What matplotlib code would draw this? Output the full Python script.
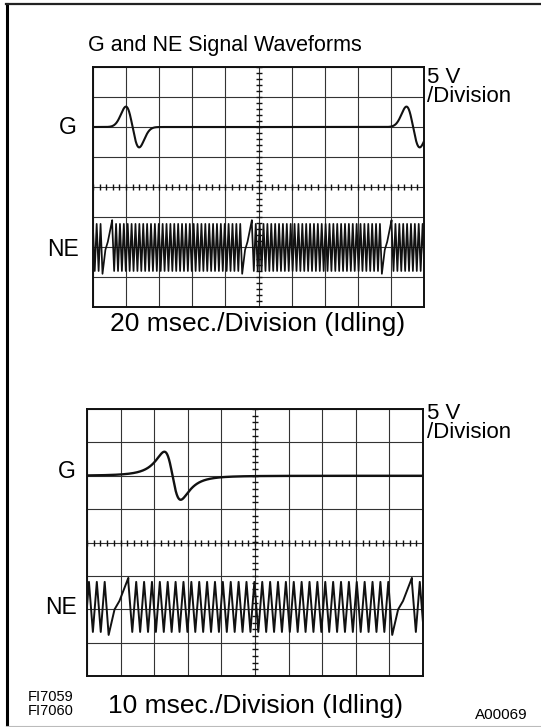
import matplotlib
matplotlib.use("Agg")
import matplotlib.pyplot as plt
from matplotlib.lines import Line2D
import numpy as np

plt.rcParams["font.family"] = ["Liberation Sans", "DejaVu Sans"]

W, H = 541, 727          # output size in px (dpi 100)

# --- data (in oscilloscope divisions; x 0..10, y -4..4, centre = 0) ---
# upper screen, 20 msec./Division
top_g_centre = [1.195, 9.67]      # centre of each G pulse
top_g_width = 0.20
top_g_amp = 0.68
top_g_level = 2.0
top_ne_gap_peak = [0.58, 4.80, 9.02]   # tall tooth right after the missing teeth
top_ne_hi, top_ne_lo = 0.77, -0.80
top_ne_level = -2.0

# lower screen, 10 msec./Division
bot_g_centre = [2.545]
bot_g_width = 0.42
bot_g_amp = 0.72
bot_g_level = 2.0
bot_ne_gap_peak = [1.23, 9.67]
bot_ne_hi, bot_ne_lo = 0.82, -0.68
bot_ne_level = -2.0

teeth_per_rev = 36        # 34 teeth + 2 missing
gap_frac = [0.0, 0.3, 0.55, 1.0]        # slow rise across the missing teeth
gap_val = [-0.06, 0.45, 0.62, 1.08]     # fraction of lo->hi span


def g_trace(centres, width, amp, level, kind):
    x = np.linspace(0, 10, 3000)
    y = np.full_like(x, level)
    for c in centres:
        u = (x - c) / width
        if kind == "gauss":
            y += amp * (-u * np.exp((1 - u ** 2) / 2))
        else:
            y += amp * (-u / (1 + u ** 2) ** 2) / 0.3248
    return x, y


def ne_trace(gap_peaks, hi, lo, level):
    if len(gap_peaks) > 1:
        p = np.mean(np.diff(gap_peaks)) / teeth_per_rev
    else:
        p = 0.234
    span = hi - lo
    starts = [gap_peaks[0] - teeth_per_rev * p] + list(gap_peaks)
    xs, ys = [], []
    nteeth = teeth_per_rev - 2
    for k, s in enumerate(starts):
        for n in range(nteeth):
            xs += [s + n * p, s + n * p + p / 2]
            ys += [hi, lo]
        xs.pop(); ys.pop()
        t0 = s + (nteeth - 1) * p + p / 2
        t1 = s + teeth_per_rev * p
        for f, v in zip(gap_frac, gap_val):
            xs.append(t0 + f * (t1 - t0))
            ys.append(lo + v * span)
    return np.array(xs), np.array(ys) + level


def screen(ax):
    ax.set_xlim(0, 10)
    ax.set_ylim(-4, 4)
    ax.set_xticks(range(11))
    ax.set_yticks(range(-4, 5))
    ax.tick_params(length=0, labelbottom=False, labelleft=False)
    ax.grid(True, color="#333333", lw=0.8)
    for s in ax.spines.values():
        s.set_linewidth(1.4)
        s.set_color("#111111")
    # centre graticule with sub-division ticks
    sub = np.arange(0, 10.01, 0.2)
    ax.plot(sub, np.zeros_like(sub), ls="none", marker="|", ms=5, mew=1.0, color="#111111")
    sub = np.arange(-4, 4.01, 0.2)
    ax.plot(np.full_like(sub, 5.0), sub, ls="none", marker="_", ms=5, mew=1.0, color="#111111")


def fx(x):
    return x / W


def fy(y):
    return 1 - y / H


fig = plt.figure(figsize=(W / 100, H / 100), dpi=100)

# outer frame
fig.add_artist(Line2D([fx(7), fx(7)], [fy(4), fy(727)], lw=2.2, color="black"))
fig.add_artist(Line2D([fx(6), fx(541)], [fy(4), fy(4)], lw=1.6, color="#222222"))
fig.add_artist(Line2D([fx(6), fx(541)], [fy(725.5), fy(725.5)], lw=0.8, color="#bbbbbb"))

# upper screen
ax1 = fig.add_axes([fx(93), fy(307), fx(424) - fx(93), (307 - 67) / H])
screen(ax1)
x, y = g_trace(top_g_centre, top_g_width, top_g_amp, top_g_level, "gauss")
ax1.plot(x, y, color="#111111", lw=1.5)
x, y = ne_trace(top_ne_gap_peak, top_ne_hi, top_ne_lo, top_ne_level)
ax1.plot(x, y, color="#111111", lw=1.25)

# lower screen
ax2 = fig.add_axes([fx(87), fy(676), fx(423) - fx(87), (676 - 409) / H])
screen(ax2)
x, y = g_trace(bot_g_centre, bot_g_width, bot_g_amp, bot_g_level, "lorentz")
ax2.plot(x, y, color="#111111", lw=1.7)
x, y = ne_trace(bot_ne_gap_peak, bot_ne_hi, bot_ne_lo, bot_ne_level)
ax2.plot(x, y, color="#111111", lw=1.4)

# texts
fig.text(fx(225), fy(45), "G and NE Signal Waveforms", fontsize=15.5, ha="center", va="center")
fig.text(fx(427), fy(67), "5 V\n/Division", fontsize=16, ha="left", va="top", linespacing=0.9)
fig.text(fx(68), fy(128), "G", fontsize=16.5, ha="center", va="center")
fig.text(fx(63), fy(250), "NE", fontsize=16.5, ha="center", va="center")
fig.text(fx(258), fy(324), "20 msec./Division (Idling)", fontsize=19, ha="center", va="center")

fig.text(fx(427), fy(403), "5 V\n/Division", fontsize=16, ha="left", va="top", linespacing=0.9)
fig.text(fx(67), fy(472), "G", fontsize=16.5, ha="center", va="center")
fig.text(fx(61), fy(608), "NE", fontsize=16.5, ha="center", va="center")
fig.text(fx(255), fy(706), "10 msec./Division (Idling)", fontsize=19, ha="center", va="center")

fig.text(fx(28), fy(697), "FI7059", fontsize=10.5, ha="left", va="center")
fig.text(fx(28), fy(711), "FI7060", fontsize=10.5, ha="left", va="center")
fig.text(fx(528), fy(715), "A00069", fontsize=11, ha="right", va="center")

fig.savefig("out.png", dpi=100)
